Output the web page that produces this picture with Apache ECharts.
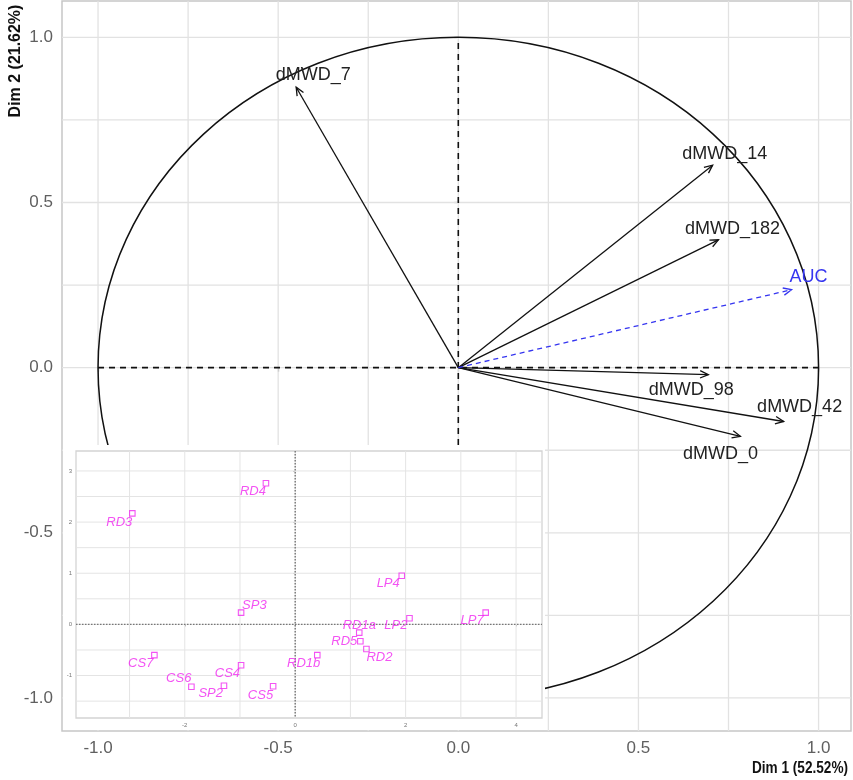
<!DOCTYPE html>
<html><head><meta charset="utf-8">
<script src="https://cdn.jsdelivr.net/npm/echarts@6/dist/echarts.min.js"></script>
<style>html,body{margin:0;padding:0;background:#fff}#c{width:853px;height:780px}</style>
</head><body><div id="c"></div>
<script>
// ---------------- data ----------------
const varNames = ['dMWD_7', 'dMWD_14', 'dMWD_182', 'dMWD_98', 'dMWD_42', 'dMWD_0'];
const varDim1  = [-0.45, 0.706, 0.722, 0.694, 0.903, 0.783];
const varDim2  = [0.849, 0.613, 0.387, -0.021, -0.163, -0.208];
const suppNames = ['AUC'];
const suppDim1  = [0.925];
const suppDim2  = [0.236];
const circleData = [[0, 0, 1]];
const refHLine = [[-1, 0], [1, 0]];
const refVLine = [[0, -1], [0, 1]];
const mainTicks = [-1.0, -0.5, 0.0, 0.5, 1.0];
const mainGridValues = [-1, -0.75, -0.5, -0.25, 0, 0.25, 0.5, 0.75, 1];
const xTitle = 'Dim 1 (52.52%)';
const yTitle = 'Dim 2 (21.62%)';

const indNames = ['RD4', 'RD3', 'LP4', 'SP3', 'LP2', 'LP7', 'RD1a', 'RD5', 'RD2', 'RD1b', 'CS7', 'CS4', 'CS6', 'SP2', 'CS5'];
const indDim1  = [-0.53, -2.95, 1.93, -0.98, 2.07, 3.45, 1.16, 1.18, 1.29, 0.40, -2.55, -0.98, -1.88, -1.29, -0.40];
const indDim2  = [2.76, 2.17, 0.95, 0.23, 0.12, 0.23, -0.16, -0.33, -0.48, -0.60, -0.60, -0.80, -1.22, -1.20, -1.21];
const insetXTicks = [-2, 0, 2, 4];
const insetYTicks = [-1, 0, 1, 2, 3];
const insetGridX = [-3, -2, -1, 0, 1, 2, 3, 4];
const insetGridY = [-1.5, -1, -0.5, 0, 0.5, 1, 1.5, 2, 2.5, 3];

// ---------------- styles ----------------
const varLabelOffset = [[17, -12], [12, -11], [14, -11], [-17, 15], [16, -14], [-20, 18]];
const suppLabelOffset = [[17, -13]];
const indLabelPlace = [
  ['right', 0, 8], ['right', 0, 9], ['right', -2, 8], ['left', 1, -7], ['right', -2, 7],
  ['right', -2, 8], ['center', 0, -7], ['right', -3, 0], ['left', 0, 8], ['right', 3, 8],
  ['right', -1, 8], ['right', -1, 8], ['right', 0, -8], ['right', -1, 8], ['right', 0, 9]
];
const MAGENTA = '#F028F0';
const FONT = "'Liberation Sans', Arial, sans-serif";

function arrowRender(names, offsets, color, dashed) {
  return function (params, api) {
    const p0 = api.coord([0, 0]);
    const p1 = api.coord([api.value(0), api.value(1)]);
    const ang = Math.atan2(p1[1] - p0[1], p1[0] - p0[0]);
    const L = 9, a = Math.PI / 7.5;
    const h1 = [p1[0] - L * Math.cos(ang - a), p1[1] - L * Math.sin(ang - a)];
    const h2 = [p1[0] - L * Math.cos(ang + a), p1[1] - L * Math.sin(ang + a)];
    const off = offsets[params.dataIndex];
    return {
      type: 'group',
      children: [
        { type: 'line', shape: { x1: p0[0], y1: p0[1], x2: p1[0], y2: p1[1] },
          style: { stroke: color, lineWidth: 1.3, lineDash: dashed ? [5, 4] : null } },
        { type: 'polyline', shape: { points: [h1, p1, h2] },
          style: { stroke: color, lineWidth: 1.3, fill: 'none' } },
        { type: 'text', x: p1[0] + off[0], y: p1[1] + off[1],
          style: { text: names[params.dataIndex], fill: color === '#111' ? '#222' : color,
                   fontSize: 18, fontFamily: FONT, align: 'center', verticalAlign: 'middle' } }
      ]
    };
  };
}

function gridLineRender(vertical, color, width, dash) {
  return function (params, api) {
    const cs = params.coordSys;
    const p = api.coord([api.value(0), api.value(1)]);
    const shape = vertical
      ? { x1: p[0], y1: cs.y, x2: p[0], y2: cs.y + cs.height }
      : { x1: cs.x, y1: p[1], x2: cs.x + cs.width, y2: p[1] };
    return { type: 'line', shape: shape, style: { stroke: color, lineWidth: width, lineDash: dash || null } };
  };
}

const chart = echarts.init(document.getElementById('c'), null, { renderer: 'canvas' });

const option = {
  animation: false,
  backgroundColor: '#fff',
  grid: [
    { left: 62, top: 1, right: 2, bottom: 49, show: true, borderColor: '#c6c6c6', borderWidth: 1.5, backgroundColor: '#fff', z: 0 },
    { left: 76, top: 451, right: 311, bottom: 62, show: true, borderColor: '#d4d4d4', borderWidth: 1.3, backgroundColor: 'transparent', z: 60 }
  ],
  xAxis: [
    { type: 'value', gridIndex: 0, min: -1.1, max: 1.09,
      axisLine: { show: false }, splitLine: { show: false },
      axisTick: { show: true, customValues: mainTicks, length: 4, lineStyle: { color: '#777', width: 1.2 } },
      axisLabel: { customValues: mainTicks, formatter: v => v.toFixed(1), fontSize: 17, color: '#606060', margin: 9, fontFamily: FONT } },
    { type: 'value', gridIndex: 1, min: -3.97, max: 4.47, z: 61,
      axisLine: { show: false }, splitLine: { show: false },
      axisTick: { show: true, customValues: insetXTicks, length: 2, lineStyle: { color: '#999', width: 0.8 } },
      axisLabel: { customValues: insetXTicks, fontSize: 6, color: '#777', margin: 4, fontFamily: FONT } }
  ],
  yAxis: [
    { type: 'value', gridIndex: 0, min: -1.1, max: 1.11,
      axisLine: { show: false }, splitLine: { show: false },
      axisTick: { show: true, customValues: mainTicks, length: 4, lineStyle: { color: '#777', width: 1.2 } },
      axisLabel: { customValues: mainTicks, formatter: v => v.toFixed(1), fontSize: 17, color: '#606060', margin: 9, fontFamily: FONT } },
    { type: 'value', gridIndex: 1, min: -1.83, max: 3.39, z: 61,
      axisLine: { show: false }, splitLine: { show: false },
      axisTick: { show: true, customValues: insetYTicks, length: 2, lineStyle: { color: '#999', width: 0.8 } },
      axisLabel: { customValues: insetYTicks, fontSize: 6, color: '#777', margin: 4, fontFamily: FONT } }
  ],
  graphic: [
    { type: 'rect', z: 50, shape: { x: 63, y: 445, width: 482, height: 285 }, style: { fill: '#fff' } },
    { type: 'text', z: 70, x: 848, y: 768, scaleX: 0.8, style: { text: xTitle, fontSize: 17, fontWeight: 'bold',
      fontFamily: FONT, fill: '#111', align: 'right', verticalAlign: 'middle' } },
    { type: 'text', z: 70, x: 15, y: 61, rotation: Math.PI / 2, scaleX: 0.94, style: { text: yTitle, fontSize: 17, fontWeight: 'bold',
      fontFamily: FONT, fill: '#111', align: 'center', verticalAlign: 'middle' } }
  ],
  series: [
    // main gridlines
    { type: 'custom', xAxisIndex: 0, yAxisIndex: 0, z: 1, silent: true,
      data: mainGridValues.map(v => [v, 0]), renderItem: gridLineRender(true, '#e2e2e2', 1.3) },
    { type: 'custom', xAxisIndex: 0, yAxisIndex: 0, z: 1, silent: true,
      data: mainGridValues.map(v => [0, v]), renderItem: gridLineRender(false, '#e2e2e2', 1.3) },
    // reference dashed lines
    { type: 'line', xAxisIndex: 0, yAxisIndex: 0, z: 3, data: refHLine, symbol: 'none', silent: true,
      lineStyle: { color: '#111', width: 1.6, type: [6, 5] } },
    { type: 'line', xAxisIndex: 0, yAxisIndex: 0, z: 3, data: refVLine, symbol: 'none', silent: true,
      lineStyle: { color: '#111', width: 1.6, type: [6, 5] } },
    // correlation circle
    { type: 'custom', xAxisIndex: 0, yAxisIndex: 0, z: 3, silent: true, data: circleData,
      renderItem: function (params, api) {
        const c = api.coord([api.value(0), api.value(1)]);
        const s = api.size([api.value(2), api.value(2)]);
        return { type: 'ellipse', shape: { cx: c[0], cy: c[1], rx: s[0], ry: s[1] },
                 style: { stroke: '#111', fill: 'none', lineWidth: 1.5 } };
      } },
    // variable arrows
    { type: 'custom', xAxisIndex: 0, yAxisIndex: 0, z: 4, silent: true,
      data: varDim1.map((x, i) => [x, varDim2[i]]),
      renderItem: arrowRender(varNames, varLabelOffset, '#111', false) },
    { type: 'custom', xAxisIndex: 0, yAxisIndex: 0, z: 4, silent: true,
      data: suppDim1.map((x, i) => [x, suppDim2[i]]),
      renderItem: arrowRender(suppNames, suppLabelOffset, '#3535F0', true) },
    // inset gridlines
    { type: 'custom', xAxisIndex: 1, yAxisIndex: 1, z: 62, silent: true,
      data: insetGridX.map(v => [v, 0]), renderItem: gridLineRender(true, '#e4e4e4', 1) },
    { type: 'custom', xAxisIndex: 1, yAxisIndex: 1, z: 62, silent: true,
      data: insetGridY.map(v => [0, v]), renderItem: gridLineRender(false, '#e4e4e4', 1) },
    // inset dotted zero lines
    { type: 'custom', xAxisIndex: 1, yAxisIndex: 1, z: 63, silent: true,
      data: [[0, 0]], renderItem: gridLineRender(true, '#777', 1.4, [1.5, 1.5]) },
    { type: 'custom', xAxisIndex: 1, yAxisIndex: 1, z: 63, silent: true,
      data: [[0, 0]], renderItem: gridLineRender(false, '#777', 1.4, [1.5, 1.5]) },
    // individuals
    { type: 'scatter', xAxisIndex: 1, yAxisIndex: 1, z: 64, silent: true,
      symbol: 'rect', symbolSize: 5.5,
      itemStyle: { color: 'transparent', borderColor: MAGENTA, borderWidth: 1.1 },
      data: indDim1.map((x, i) => ({
        name: indNames[i], value: [x, indDim2[i]],
        label: { align: indLabelPlace[i][0], offset: [indLabelPlace[i][1], indLabelPlace[i][2]] }
      })),
      label: { show: true, position: 'inside', formatter: p => p.name, color: MAGENTA,
               fontSize: 13, fontStyle: 'italic', fontFamily: FONT, verticalAlign: 'middle' } }
  ]
};
chart.setOption(option);
</script>
</body></html>
